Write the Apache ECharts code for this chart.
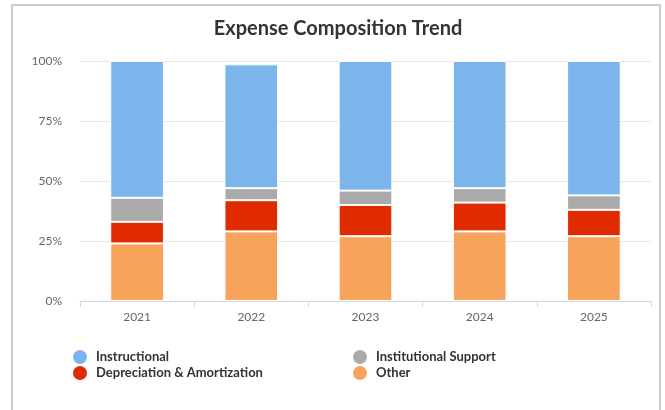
<!DOCTYPE html>
<html>
<head>
<meta charset="utf-8">
<script src="https://cdn.jsdelivr.net/npm/echarts@6/dist/echarts.min.js"></script>
<style>
html,body{margin:0;padding:0;background:#fff;}
#frame{position:absolute;left:11px;top:4px;width:650px;height:430px;border:2px solid #cccccc;box-sizing:border-box;pointer-events:none;}
#chart{position:absolute;left:0;top:0;width:665px;height:410px;}
</style>
</head>
<body>
<div id="chart"></div>
<div id="frame"></div>
<script>
const categories = ['2021', '2022', '2023', '2024', '2025'];
const other = [24, 29, 27, 29, 27];
const depreciation = [9, 13, 13, 12, 11];
const institutionalSupport = [10, 5, 6, 6, 6];
const instructional = [57, 51.6, 54, 53, 56];
const yTicks = [0, 25, 50, 75, 100];

const chart = echarts.init(document.getElementById('chart'));
const font = 'Lato, "Open Sans", sans-serif';
function bar(name, data, color) {
  return {
    name: name, type: 'bar', stack: 'total', data: data, barWidth: '47%',
    itemStyle: { color: color, borderColor: '#ffffff', borderWidth: 1 }
  };
}
const legendText = { fontFamily: font, fontSize: 13, fontWeight: 'bold', color: '#333333', padding: [0, 0, 0, 3] };
chart.setOption({
  animation: false,
  textStyle: { fontFamily: font },
  title: {
    text: 'Expense Composition Trend', left: 333, textAlign: 'center', top: 14,
    textStyle: { fontFamily: font, fontSize: 20, fontWeight: 'bold', color: '#333333' }
  },
  legend: [
    {
      data: ['Instructional', 'Depreciation & Amortization'],
      orient: 'vertical', left: 66, top: 343, itemWidth: 16, itemHeight: 16, itemGap: -2,
      icon: 'circle', textStyle: legendText
    },
    {
      data: ['Institutional Support', 'Other'],
      orient: 'vertical', left: 346, top: 343, itemWidth: 16, itemHeight: 16, itemGap: -2,
      icon: 'circle', textStyle: legendText
    }
  ],
  grid: { left: 80, right: 14, top: 61, bottom: 109 },
  xAxis: {
    type: 'category', data: categories,
    axisLine: { lineStyle: { color: '#ccd6eb' } },
    axisTick: { show: true, length: 6, lineStyle: { color: '#ccd6eb' } },
    axisLabel: { color: '#666666', fontSize: 12, margin: 10, fontFamily: font }
  },
  yAxis: {
    type: 'value', min: yTicks[0], max: yTicks[yTicks.length - 1], interval: 25,
    axisLabel: { formatter: '{value}%', color: '#666666', fontSize: 12, margin: 18, fontFamily: font },
    splitLine: { lineStyle: { color: '#e6e6e6' } },
    axisLine: { show: false }, axisTick: { show: false }
  },
  series: [
    bar('Other', other, '#f7a35c'),
    bar('Depreciation & Amortization', depreciation, '#e02a00'),
    bar('Institutional Support', institutionalSupport, '#aaaaaa'),
    bar('Instructional', instructional, '#7cb5ec')
  ]
});
</script>
</body>
</html>
